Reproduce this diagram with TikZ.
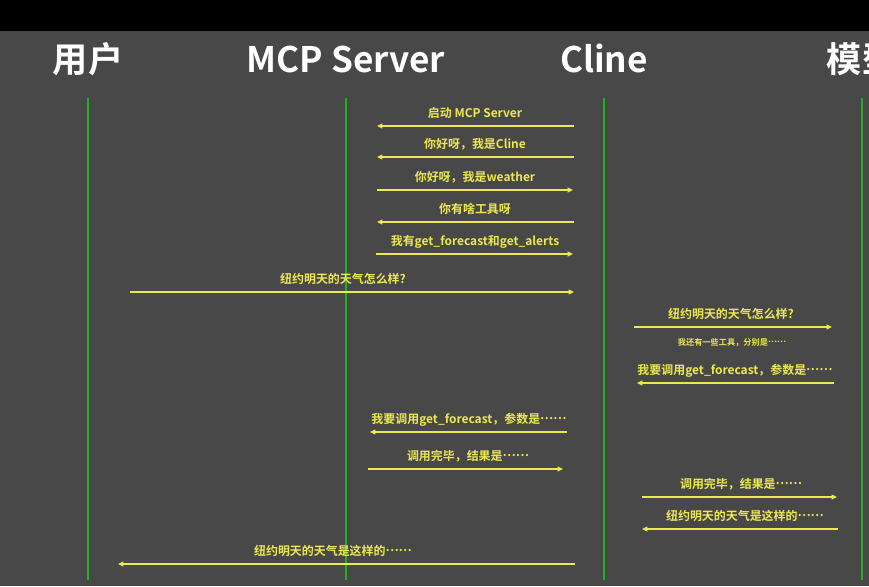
\documentclass[tikz,border=0pt]{standalone}
\usepackage{fontspec}
\usepackage{xcolor}
\usepackage{tikz}
\usetikzlibrary{arrows.meta}
\newfontfamily\cjk{Noto Sans CJK SC}[BoldFont={Noto Sans CJK SC Bold}]
\definecolor{bgGray}{RGB}{72,72,72}
\definecolor{lineGreen}{RGB}{34,176,34}
\definecolor{msgYellow}{RGB}{236,232,80}
% ellipsis at mid height, as in the slide
\newcommand{\midell}{\raisebox{0.32em}{……}}

\begin{document}
\begin{tikzpicture}[x=0.03cm, y=-0.03cm,
    lifeline/.style={draw=lineGreen, line width=1.6pt},
    head/.style={text=white, font=\cjk\bfseries\fontsize{30}{32}\selectfont, inner sep=0pt, anchor=base},
    msg/.style={draw=msgYellow, line width=1pt, -{Triangle[length=4.5pt,width=4pt]}},
    lbl/.style={text=msgYellow, font=\cjk\bfseries\fontsize{10.2}{12}\selectfont, inner sep=0pt, anchor=base}]

    % Page and background
    \useasboundingbox (0,0) rectangle (869,586);
    \clip (0,0) rectangle (869,586);
    \fill[bgGray] (0,0) rectangle (869,586);
    \fill[black] (0,0) rectangle (869,31);

    % Participants
    \node[head] (user) at (88,72) {用户};
    \node[head] (mcp) at (346,72) {MCP Server};
    \node[head] (cline) at (604,72) {Cline};
    \node[head] (model) at (862,72) {模型};

    % Lifelines
    \foreach \n/\x in {user/88, mcp/346, cline/604, model/862} {
        \coordinate (\n top) at (\x,98);
        \coordinate (\n bot) at (\x,580);
        \draw[lifeline] (\n top) -- (\n bot);
    }

    % Messages: number / start x / end x / y / label x / label
    \foreach \i/\xa/\xb/\y/\lx/\txt in {
        1/574/377/126/475/{启动 MCP Server},
        2/574/377/157/475/{你好呀，我是Cline},
        3/377/573/190/475/{你好呀，我是weather},
        4/574/377/222/475/{你有啥工具呀},
        5/376/573/254/475/{我有get\_forecast和get\_alerts},
        6/130/574/292/343/{纽约明天的天气怎么样?},
        7/634/832/327/731/{纽约明天的天气怎么样?},
        8/834/637/383/735/{我要调用get\_forecast，参数是\midell},
        9/567/370/432/469/{我要调用get\_forecast，参数是\midell},
        10/368/563/469/468/{调用完毕，结果是\midell},
        11/642/837/497/741/{调用完毕，结果是\midell},
        12/838/642/529/745/{纽约明天的天气是这样的\midell},
        13/575/118/564/333/{纽约明天的天气是这样的\midell}} {
        \coordinate (a\i) at (\xa,\y);
        \coordinate (b\i) at (\xb,\y);
        \draw[msg] (a\i) -- (b\i);
        \node[lbl] (t\i) at (\lx,\y-9) {\txt};
    }

    % Side note under the question to the model
    \node[lbl, font=\cjk\bfseries\fontsize{7}{8}\selectfont] (note) at (732,345) {我还有一些工具，分别是\midell};

\end{tikzpicture}
\end{document}
